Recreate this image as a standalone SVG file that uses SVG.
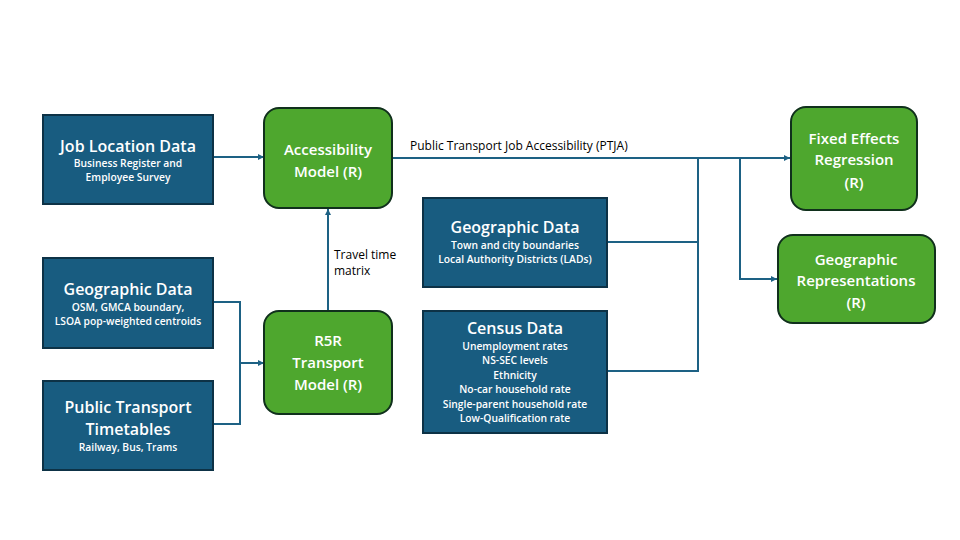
<svg xmlns="http://www.w3.org/2000/svg" width="960" height="540" viewBox="0 0 960 540">
<style>
.data{fill:#185c80;stroke:#0d3246;stroke-width:2}
.model{fill:#4ea72e;stroke:#10301c;stroke-width:2}
.t{font-family:"Open Sans","Noto Sans",sans-serif;fill:#fff;text-anchor:middle}
.h{font-size:16px;font-weight:600}
.s{font-size:10.3px;font-weight:600}
.m{font-size:15px;font-weight:600}
.c{fill:none;stroke:#1d6184;stroke-width:2}
.lbl{font-family:"Open Sans","Noto Sans",sans-serif;font-size:12px;fill:#000}
</style>
<defs>
<marker id="ah" viewBox="0 0 10 10" refX="10" refY="5" markerWidth="6" markerHeight="6" markerUnits="userSpaceOnUse" orient="auto">
<path d="M0,0 L10,5 L0,10 z" fill="#1d6184"/>
</marker>
</defs>
<rect width="960" height="540" fill="#fff"/>
<g id="connectors">
<line class="c" x1="213" y1="157" x2="264" y2="157" marker-end="url(#ah)"/>
<polyline class="c" points="213,302 240,302 240,424 213,424"/>
<line class="c" x1="240" y1="363" x2="264" y2="363" marker-end="url(#ah)"/>
<line class="c" x1="328" y1="311" x2="328" y2="209" marker-end="url(#ah)"/>
<text class="lbl" x="334" y="259">Travel time</text>
<text class="lbl" x="334" y="275">matrix</text>
<line class="c" x1="392" y1="158" x2="790" y2="158" marker-end="url(#ah)"/>
<text class="lbl" x="410" y="150">Public Transport Job Accessibility (PTJA)</text>
<polyline class="c" points="607,242 698,242"/>
<polyline class="c" points="698,158 698,371 607,371"/>
<polyline class="c" points="740,158 740,279 777,279" marker-end="url(#ah)"/>
</g>
<g id="job-location">
<rect class="data" x="43" y="115" width="170" height="89"/>
<text class="t h" x="128" y="152">Job Location Data</text>
<text class="t s" x="128" y="167">Business Register and</text>
<text class="t s" x="128" y="181">Employee Survey</text>
</g>
<g id="accessibility">
<rect class="model" x="264" y="108" width="128" height="100" rx="15"/>
<text class="t m" x="328" y="155">Accessibility</text>
<text class="t m" x="328" y="177">Model (R)</text>
</g>
<g id="geo1">
<rect class="data" x="43" y="258" width="170" height="90"/>
<text class="t h" x="128" y="295">Geographic Data</text>
<text class="t s" x="128" y="311">OSM, GMCA boundary,</text>
<text class="t s" x="128" y="325">LSOA pop-weighted centroids</text>
</g>
<g id="timetables">
<rect class="data" x="43" y="381" width="170" height="89"/>
<text class="t h" x="128" y="413">Public Transport</text>
<text class="t h" x="128" y="435">Timetables</text>
<text class="t s" x="128" y="451">Railway, Bus, Trams</text>
</g>
<g id="r5r">
<rect class="model" x="264" y="311" width="128" height="103" rx="15"/>
<text class="t m" x="328" y="346">R5R</text>
<text class="t m" x="328" y="368">Transport</text>
<text class="t m" x="328" y="390">Model (R)</text>
</g>
<g id="geo2">
<rect class="data" x="423" y="198" width="184" height="89"/>
<text class="t h" x="515" y="233">Geographic Data</text>
<text class="t s" x="515" y="249">Town and city boundaries</text>
<text class="t s" x="515" y="263">Local Authority Districts (LADs)</text>
</g>
<g id="census">
<rect class="data" x="423" y="311" width="184" height="122"/>
<text class="t h" x="515" y="334">Census Data</text>
<text class="t s" x="515" y="350">Unemployment rates</text>
<text class="t s" x="515" y="364">NS-SEC levels</text>
<text class="t s" x="515" y="379">Ethnicity</text>
<text class="t s" x="515" y="393">No-car household rate</text>
<text class="t s" x="515" y="408">Single-parent household rate</text>
<text class="t s" x="515" y="422">Low-Qualification rate</text>
</g>
<g id="fixed-effects">
<rect class="model" x="791" y="107" width="126" height="103" rx="15"/>
<text class="t m" x="854" y="144">Fixed Effects</text>
<text class="t m" x="854" y="165">Regression</text>
<text class="t m" x="854" y="188">(R)</text>
</g>
<g id="geo-representations">
<rect class="model" x="778" y="235" width="157" height="88" rx="15"/>
<text class="t m" x="856" y="265">Geographic</text>
<text class="t m" x="856" y="286">Representations</text>
<text class="t m" x="856" y="308">(R)</text>
</g>
</svg>
